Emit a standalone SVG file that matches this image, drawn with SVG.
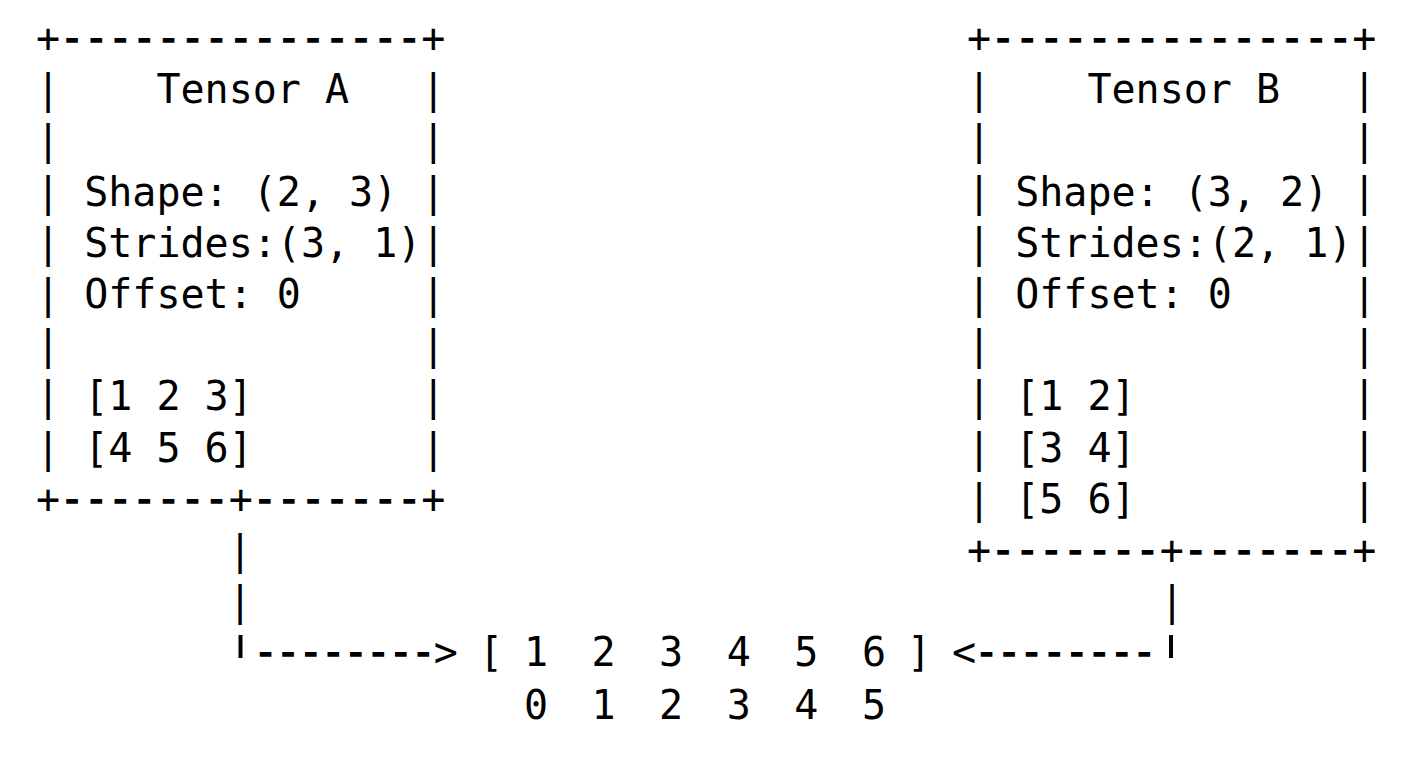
<svg xmlns="http://www.w3.org/2000/svg" width="1408" height="768" viewBox="0 0 1408 768" xml:space="preserve">
<style>
  text { font-family: "DejaVu Sans Mono", "Liberation Mono", monospace; font-size: 40px; fill: #000000; white-space: pre; }
  .line { stroke: #000000; stroke-width: 1.4; }
  .p { stroke: none; }
  .tick { stroke: #000000; stroke-width: 4; stroke-linecap: butt; }
</style>
<rect x="0" y="0" width="1408" height="768" fill="#ffffff"/>
<g id="tensor-a">
  <text class="line" x="36" y="52"><tspan class="p">+</tspan>---------------<tspan class="p">+</tspan></text>
  <text x="36" y="103.2">|    Tensor A   |</text>
  <text x="36" y="154.4">|               |</text>
  <text x="36" y="205.6">| Shape: (2, 3) |</text>
  <text x="36" y="256.8">| Strides:(3, 1)|</text>
  <text x="36" y="308">| Offset: 0     |</text>
  <text x="36" y="359.2">|               |</text>
  <text x="36" y="410.4">| [1 2 3]       |</text>
  <text x="36" y="461.6">| [4 5 6]       |</text>
  <text class="line" x="36" y="512.8"><tspan class="p">+</tspan>-------<tspan class="p">+</tspan>-------<tspan class="p">+</tspan></text>
</g>
<g id="tensor-b">
  <text class="line" x="967" y="52"><tspan class="p">+</tspan>---------------<tspan class="p">+</tspan></text>
  <text x="967" y="103.2">|    Tensor B   |</text>
  <text x="967" y="154.4">|               |</text>
  <text x="967" y="205.6">| Shape: (3, 2) |</text>
  <text x="967" y="256.8">| Strides:(2, 1)|</text>
  <text x="967" y="308">| Offset: 0     |</text>
  <text x="967" y="359.2">|               |</text>
  <text x="967" y="410.4">| [1 2]         |</text>
  <text x="967" y="461.6">| [3 4]         |</text>
  <text x="967" y="512.8">| [5 6]         |</text>
  <text class="line" x="967" y="564"><tspan class="p">+</tspan>-------<tspan class="p">+</tspan>-------<tspan class="p">+</tspan></text>
</g>
<g id="memory">
  <text x="478.9 501.4 524.0 546.5 569.0 591.6 614.1 636.6 659.1 681.7 704.2 726.7 749.2 771.8 794.3 816.8 839.4 861.9 884.4 907.0" y="666.4">[ 1  2  3  4  5  6 ]</text>
  <text x="524.0 591.6 659.1 726.7 794.3 861.9" y="719">012345</text>
</g>
<g id="connectors">
  <text x="228" y="564">|</text>
  <text x="228" y="615.2">|</text>
  <text x="1160" y="615.2">|</text>
  <line class="tick" x1="240.5" y1="635" x2="240.5" y2="658"/>
  <line class="tick" x1="1171" y1="635" x2="1171" y2="658"/>
  <text class="line" x="253.6 276.1 298.7 321.2 343.7 366.3 388.8 411.3 433.8" y="666.4">--------<tspan class="p">&gt;</tspan></text>
  <text class="line" x="952.0 974.6 997.1 1019.6 1042.2 1064.7 1087.2 1109.7 1132.3" y="666.4"><tspan class="p">&lt;</tspan>--------</text>
</g>
</svg>
